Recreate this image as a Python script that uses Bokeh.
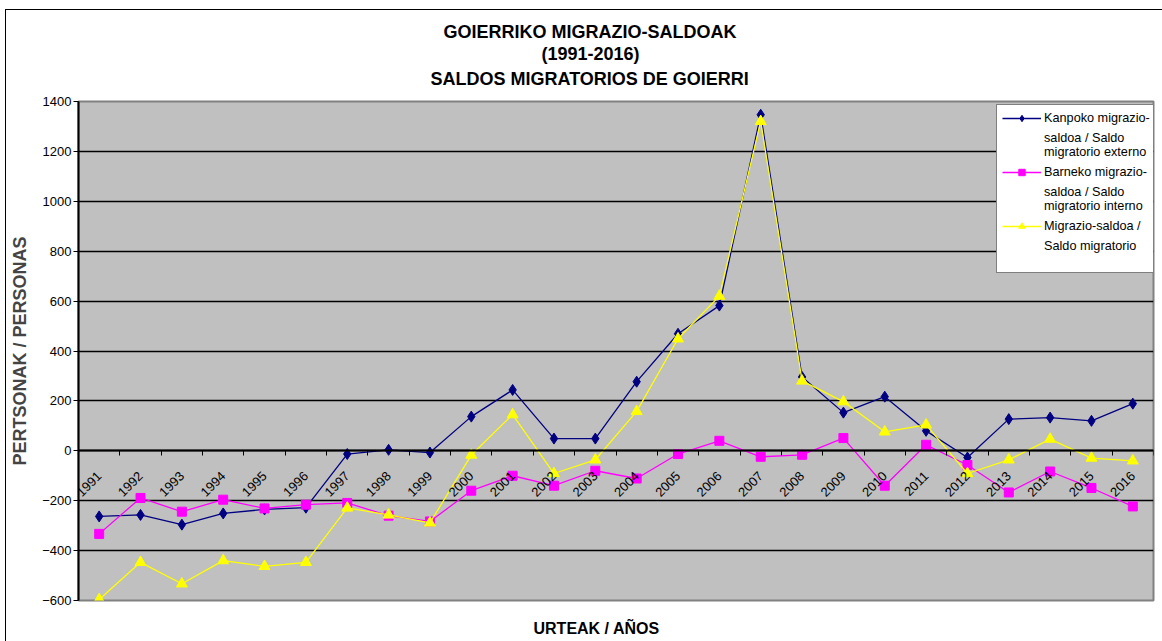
from math import pi
from bokeh.plotting import figure
from bokeh.models import Range1d, FixedTicker, Title, Legend, LegendItem
from bokeh.embed import file_html
from bokeh.resources import INLINE

years = [1991, 1992, 1993, 1994, 1995, 1996, 1997, 1998, 1999, 2000, 2001, 2002, 2003,
         2004, 2005, 2006, 2007, 2008, 2009, 2010, 2011, 2012, 2013, 2014, 2015, 2016]
kanpoko = [-263, -257, -296, -251, -235, -228, -13, 4, -7, 137, 244, 49, 49,
           277, 469, 582, 1347, 296, 153, 217, 80, -27, 127, 133, 120, 189]
barneko = [-333, -189, -244, -196, -231, -216, -209, -260, -283, -160, -100, -140, -80,
           -111, -13, 40, -24, -16, 51, -140, 24, -57, -167, -83, -149, -223]
guztira = [-596, -447, -533, -440, -463, -447, -229, -257, -289, -17, 145, -91, -36,
           158, 449, 620, 1320, 280, 197, 76, 104, -91, -36, 47, -29, -40]
y_ticks = [-600, -400, -200, 0, 200, 400, 600, 800, 1000, 1200, 1400]

FONT = "Liberation Sans"

p = figure(width=1156, height=631, x_range=Range1d(1990.5, 2016.5), y_range=Range1d(-600, 1400),
           output_backend="svg", toolbar_location=None, title="GOIERRIKO MIGRAZIO-SALDOAK",
           min_border_left=72, min_border_right=9, min_border_top=91, min_border_bottom=41)
p.styles = {"margin-left": "6px", "margin-top": "10px", "outline": "1px solid black"}
p.background_fill_color = "#C0C0C0"
p.border_fill_color = "white"
p.outline_line_color = "#808080"
p.outline_line_width = 2

def style_title(t, size, off, standoff):
    t.text_font = FONT
    t.text_font_size = size
    t.text_font_style = "bold"
    t.text_color = "black"
    t.align = "left"
    t.offset = off
    t.standoff = standoff

style_title(p.title, "18px", 365, 18)
t_sub = Title(text="SALDOS MIGRATORIOS DE GOIERRI")
style_title(t_sub, "18px", 352, 25)
p.add_layout(t_sub, "above")
t_years = Title(text="(1991-2016)")
style_title(t_years, "18px", 463, -18)
p.add_layout(t_years, "above")

tb = Title(text="\nURTEAK / AÑOS")
style_title(tb, "16px", 455, 0)
p.add_layout(tb, "below")

# y axis
p.yaxis.ticker = FixedTicker(ticks=y_ticks)
p.yaxis.axis_label = "PERTSONAK / PERSONAS"
p.yaxis.axis_label_text_font = FONT
p.yaxis.axis_label_text_font_size = "18px"
p.yaxis.axis_label_text_font_style = "bold"
p.yaxis.axis_label_standoff = 9
p.yaxis.major_label_text_font = FONT
p.yaxis.major_label_text_font_size = "13px"
p.yaxis.major_label_text_color = "black"
p.yaxis.major_tick_out = 5
p.yaxis.major_tick_in = 0
p.yaxis.major_tick_line_color = "black"
p.yaxis.minor_tick_line_color = None
p.yaxis.axis_line_color = "black"
p.yaxis.axis_line_width = 2
p.yaxis.major_label_standoff = 2

p.ygrid.ticker = FixedTicker(ticks=y_ticks)
p.ygrid.grid_line_color = "black"
p.ygrid.grid_line_width = 1.5
p.xgrid.grid_line_color = None

# x axis at zero
p.xaxis.fixed_location = 0
p.xaxis.ticker = FixedTicker(ticks=years, minor_ticks=[y - 0.5 for y in years] + [years[-1] + 0.5])
p.xaxis.major_tick_line_color = None
p.xaxis.major_tick_out = 0
p.xaxis.major_tick_in = 0
p.xaxis.minor_tick_out = 5
p.xaxis.minor_tick_in = 0
p.xaxis.minor_tick_line_color = "black"
p.xaxis.axis_line_color = "black"
p.xaxis.axis_line_width = 2
p.xaxis.major_label_orientation = pi / 4
p.xaxis.major_label_text_font = FONT
p.xaxis.major_label_text_font_size = "13px"
p.xaxis.major_label_text_color = "black"
p.xaxis.major_label_standoff = 18

l1 = p.line(years, kanpoko, line_color="#000080", line_width=1.3)
s1 = p.scatter(years, kanpoko, marker="diamond", size=11, fill_color="#000080", line_color="#000080")
l2 = p.line(years, barneko, line_color="#FF00FF", line_width=1.3)
s2 = p.scatter(years, barneko, marker="square", size=9, fill_color="#FF00FF", line_color="#FF00FF")
l3 = p.line(years, guztira, line_color="#FFFF00", line_width=1.3)
s3 = p.scatter(years, guztira, marker="triangle", size=11, fill_color="#FFFF00", line_color="#FFFF00")

# invisible renderer used for continuation lines of the legend labels
blank = p.scatter(x=[], y=[], size=1, fill_alpha=0, line_alpha=0)

legend = Legend(items=[
    LegendItem(label="Kanpoko migrazio-", renderers=[l1, s1]),
    LegendItem(label="saldoa / Saldo\nmigratorio externo", renderers=[blank]),
    LegendItem(label="Barneko migrazio-", renderers=[l2, s2]),
    LegendItem(label="saldoa / Saldo\nmigratorio interno", renderers=[blank]),
    LegendItem(label="Migrazio-saldoa /", renderers=[l3, s3]),
    LegendItem(label="Saldo migratorio\n\u00a0", renderers=[blank]),
], location=(918, 327))
legend.border_line_color = "black"
legend.border_line_width = 1
legend.background_fill_color = "white"
legend.background_fill_alpha = 1
legend.label_text_font = FONT
legend.label_text_font_size = "12.7px"
legend.label_text_line_height = 1.25
legend.label_text_color = "black"
legend.label_height = 16
legend.glyph_height = 16
legend.glyph_width = 39
legend.label_standoff = 3
legend.spacing = 5
legend.padding = 5
legend.margin = 0
p.add_layout(legend)

open("out.html", "w").write(file_html(p, INLINE))
